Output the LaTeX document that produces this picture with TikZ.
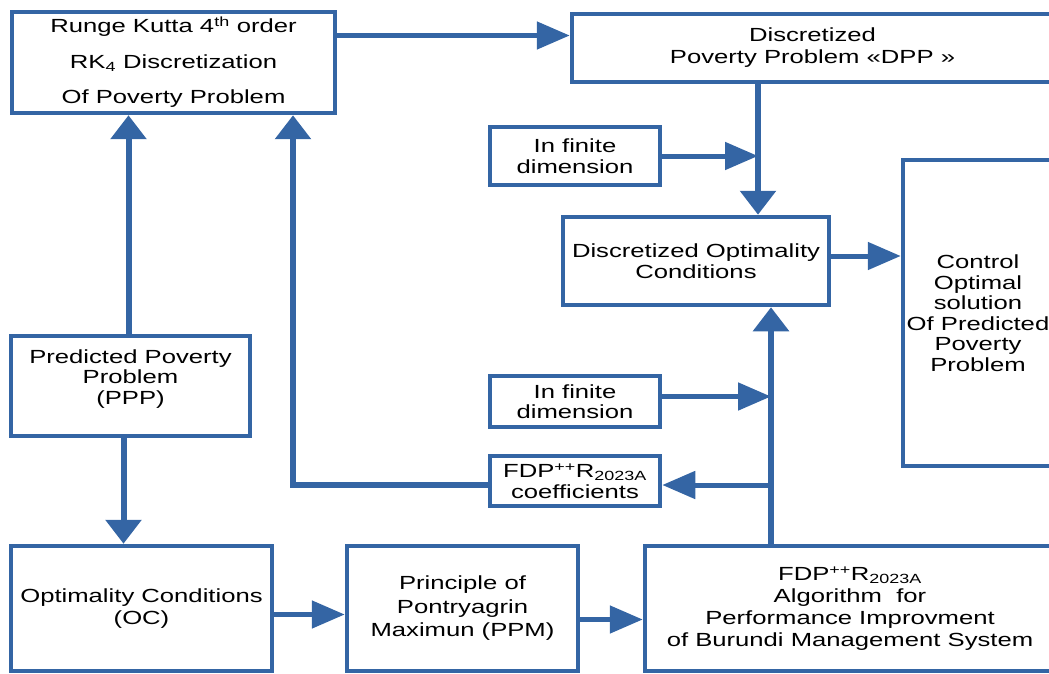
\documentclass[tikz,border=0pt]{standalone}
\usepackage{fontspec}
\setmainfont{Liberation Sans}[FakeStretch=1.35]
\usetikzlibrary{arrows.meta,positioning}
\definecolor{boxblue}{RGB}{52,101,164}

\begin{document}
\begin{tikzpicture}[x=1pt, y=-1pt,
   box/.style = {draw=boxblue, line width=4.5pt, align=center, inner sep=0pt,
                 font=\fontsize{19}{20.5}\selectfont},
   harr/.style = {draw=boxblue, line width=5pt, -{Triangle[length=33pt,width=27pt]}},
   varr/.style = {draw=boxblue, line width=6pt, -{Triangle[length=24pt,width=35pt]}}]
   \useasboundingbox (0,0) rectangle (1049,674);
   % boxes
   \node[box, minimum width=323pt, minimum height=101pt] (rk) at (173.5,62.5)
      {Runge Kutta 4\textsuperscript{th} order\\[15pt]RK\textsubscript{4} Discretization\\[15pt]Of Poverty Problem};
   \node[box, minimum width=481pt, minimum height=68pt] (dpp) at (812.5,48)
      {Discretized\\[1.5pt]Poverty Problem «DPP »};
   \node[box, minimum width=170pt, minimum height=58pt] (fin_1) at (575,156)
      {In finite\\dimension};
   \node[box, minimum width=266pt, minimum height=88pt] (doc) at (696,261)
      {Discretized Optimality\\Conditions};
   \node[box, minimum width=150pt, minimum height=306pt] (ctl) at (978,313)
      {Control\\Optimal\\solution\\Of Predicted\\Poverty\\Problem};
   \node[box, minimum width=239pt, minimum height=100pt] (ppp) at (130.5,386)
      {Predicted Poverty\\Problem\\(PPP)\\[-2pt]\mbox{}};
   \node[box, minimum width=170pt, minimum height=51pt] (fin_2) at (575,401.5)
      {In finite\\dimension};
   \node[box, minimum width=170pt, minimum height=50pt] (coef) at (575,481)
      {FDP\textsuperscript{++}R\textsubscript{2023A}\\coefficients};
   \node[box, minimum width=261pt, minimum height=125pt] (oc) at (141.5,608.5)
      {Optimality Conditions\\[1.5pt](OC)};
   \node[box, minimum width=231pt, minimum height=125pt] (ppm) at (462.5,608.5)
      {Principle of\\[3pt]Pontryagrin\\[3pt]Maximun (PPM)};
   \node[box, minimum width=410pt, minimum height=125pt] (fdp) at (850,608.5)
      {FDP\textsuperscript{++}R\textsubscript{2023A}\\[1.5pt]Algorithm~ for\\[1.5pt]Performance Improvment\\[1.5pt]of Burundi Management System};
   \coordinate (spine_1) at (758,0);
   \coordinate (spine_2) at (771,0);
   \coordinate (back) at (293,0);
   % connectors
   \draw[harr] ([yshift=27pt]rk.east) coordinate (t_1) -- (t_1 -| dpp.west);
   \draw[varr] (dpp.south -| spine_1) -- (doc.north -| spine_1);
   \draw[harr] (fin_1.east) -- (fin_1.east -| spine_1);
   \draw[harr] ([yshift=5pt]doc.east) coordinate (t_2) -- (t_2 -| ctl.west);
   \draw[varr] (fdp.north -| spine_2) -- (doc.south -| spine_2);
   \draw[harr] ([yshift=5pt]fin_2.east) coordinate (t_3) -- (t_3 -| spine_2);
   \draw[harr] ([yshift=-4pt]coef.east -| spine_2) -- ([yshift=-4pt]coef.east);
   \draw[varr] ([yshift=-4pt]coef.west) -| (rk.south -| back);
   \draw[varr] ([xshift=-2pt]ppp.north) -- ([xshift=-2pt]ppp.north |- rk.south);
   \draw[varr] ([xshift=-7pt]ppp.south) -- ([xshift=-7pt]ppp.south |- oc.north);
   \draw[harr] ([yshift=-6pt]oc.east) coordinate (t_4) -- (t_4 -| ppm.west);
   \draw[harr] ([yshift=-11pt]ppm.east) coordinate (t_5) -- (t_5 -| fdp.west);
\end{tikzpicture}
\end{document}
